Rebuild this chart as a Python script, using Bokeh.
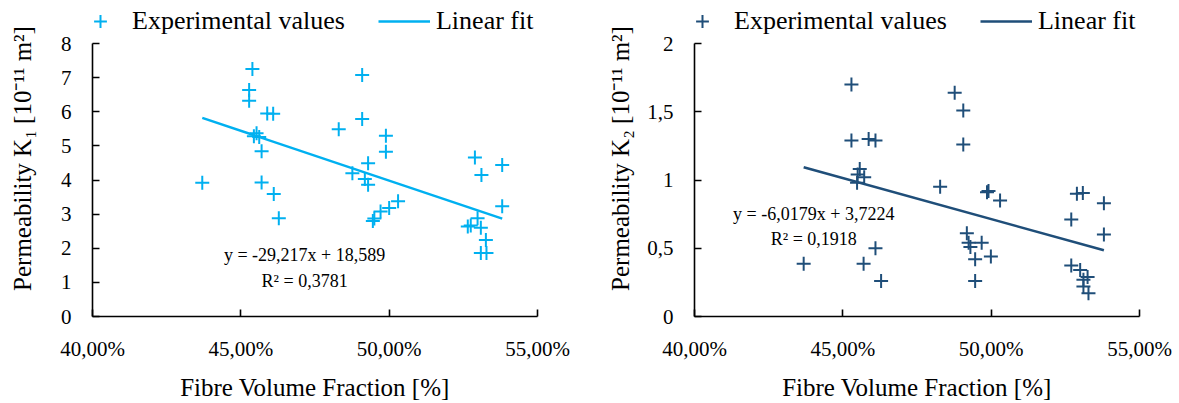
from bokeh.plotting import figure
from bokeh.layouts import row
from bokeh.models import (Range1d, FixedTicker, CustomJSTickFormatter, Legend,
                          LegendItem, Label)
from bokeh.embed import file_html
from bokeh.resources import INLINE

FONT = "Liberation Serif"

# ---------------- data ----------------
fvf_k1 = [0.4370, 0.4539, 0.4528, 0.4528, 0.4589, 0.4609, 0.4553, 0.4544, 0.4562,
          0.4570, 0.4570, 0.4611, 0.4628,
          0.4830, 0.4909, 0.4909, 0.4876, 0.4929, 0.4918, 0.4929, 0.4950, 0.4945,
          0.4971, 0.5000, 0.5030, 0.4989, 0.4989,
          0.5289, 0.5311, 0.5381, 0.5381, 0.5265, 0.5275, 0.5298, 0.5309, 0.5326,
          0.5309, 0.5328]
k1 = [3.92, 7.25, 6.64, 6.32, 5.95, 5.94, 5.37, 5.28, 5.26,
      4.84, 3.93, 3.59, 2.88,
      5.49, 7.08, 5.79, 4.20, 4.49, 4.03, 3.86, 2.87, 2.80,
      3.08, 3.18, 3.38, 5.30, 4.83,
      4.66, 4.15, 4.44, 3.23, 2.64, 2.67, 2.88, 2.60, 2.24,
      1.86, 1.86]

fvf_k2 = [0.4368, 0.4529, 0.4529, 0.4587, 0.4610, 0.4557, 0.4550, 0.4572, 0.4548,
          0.4570, 0.4610, 0.4629,
          0.4828, 0.4877, 0.4906, 0.4906, 0.4918, 0.4924, 0.4930, 0.4946, 0.4946,
          0.4968, 0.4999, 0.4991, 0.4986, 0.5030,
          0.5270, 0.5289, 0.5309, 0.5380, 0.5380, 0.5270, 0.5300, 0.5325, 0.5311,
          0.5311, 0.5328]
k2 = [0.386, 1.70, 1.29, 1.30, 1.29, 1.08, 1.04, 1.02, 0.98,
      0.386, 0.50, 0.26,
      0.95, 1.64, 1.51, 1.26, 0.61, 0.54, 0.51, 0.42, 0.26,
      0.54, 0.44, 0.92, 0.91, 0.85,
      0.71, 0.90, 0.905, 0.83, 0.60, 0.373, 0.34, 0.29, 0.27,
      0.22, 0.17]

x_ticks = [0.40, 0.45, 0.50, 0.55]
k1_ticks = [0, 1, 2, 3, 4, 5, 6, 7, 8]
k2_ticks = [0, 0.5, 1, 1.5, 2]

k1_slope, k1_intercept = -29.217, 18.589
k2_slope, k2_intercept = -6.0179, 3.7224
k1_eq = "y = -29,217x + 18,589"
k1_r2 = "R² = 0,3781"
k2_eq = "y = -6,0179x + 3,7224"
k2_r2 = "R² = 0,1918"

series_labels = ["Experimental values", "Linear fit"]
x_title = "Fibre Volume Fraction [%]"
k1_title = "Permeability K₁ [10⁻¹¹ m²]"
k2_title = "Permeability K₂ [10⁻¹¹ m²]"

LIGHT = "#00B0F0"
DARK = "#1F4E79"

# ---------------- layout constants (pixels) ----------------
H = 403
BOTTOM = 87
TOP_GAP = 43          # from figure top to the highest y tick
AXIS_W = 445          # pixel length of the 40%..55% axis

x_fmt = CustomJSTickFormatter(code="return (tick*100).toFixed(2).replace('.', ',') + '%';")
y_fmt = CustomJSTickFormatter(code="return String(Math.round(tick*100)/100).replace('.', ',');")


def make_panel(x, y, color, slope, intercept, eq, r2, y_ticks, y_title,
               width, axis_px, ylabel_standoff, eq_pos):
    x0, x1 = x_ticks[0], x_ticks[-1]
    frame_h = H - BOTTOM
    y_top = y_ticks[-1]
    y_end = y_top * frame_h / (frame_h - TOP_GAP)
    p = figure(width=width, height=H, x_range=Range1d(x0, x1),
               y_range=Range1d(y_ticks[0], y_end),
               output_backend="svg", toolbar_location=None,
               min_border_left=axis_px,
               min_border_right=width - axis_px - AXIS_W,
               min_border_top=0, min_border_bottom=BOTTOM)
    p.outline_line_color = None
    p.grid.visible = False
    p.background_fill_color = "white"
    p.border_fill_color = "white"

    pts = p.scatter(x, y, marker="cross", size=14, line_color=color, line_width=2)
    xs = [min(x), max(x)]
    fit = p.line(xs, [slope * v + intercept for v in xs], line_color=color, line_width=2.5)

    for ax in (p.xaxis[0], p.yaxis[0]):
        ax.axis_line_color = "black"
        ax.axis_line_width = 1.6
        ax.major_tick_line_color = "black"
        ax.major_tick_line_width = 1.6
        ax.major_tick_in = 7
        ax.major_tick_out = 0
        ax.minor_tick_in = 0
        ax.minor_tick_out = 0
        ax.major_label_text_font = FONT
        ax.major_label_text_font_size = "21px"
        ax.major_label_text_color = "black"
        ax.axis_label_text_font = FONT
        ax.axis_label_text_font_size = "25px"
        ax.axis_label_text_font_style = "normal"
        ax.axis_label_text_color = "black"

    p.xaxis.ticker = FixedTicker(ticks=x_ticks)
    p.xaxis.formatter = x_fmt
    p.xaxis.major_label_standoff = 20
    p.xaxis.axis_label = x_title
    p.xaxis.axis_label_standoff = 10

    p.yaxis.ticker = FixedTicker(ticks=y_ticks)
    p.yaxis.formatter = y_fmt
    p.yaxis.bounds = (y_ticks[0], y_top)
    p.yaxis.major_label_standoff = 21
    p.yaxis.axis_label = y_title
    p.yaxis.axis_label_standoff = ylabel_standoff

    legend = Legend(items=[LegendItem(label=series_labels[0], renderers=[pts]),
                           LegendItem(label=series_labels[1], renderers=[fit])],
                    orientation="horizontal", location=(-18, frame_h - 37),
                    glyph_width=52, glyph_height=32, label_standoff=6, spacing=33,
                    padding=0, margin=0, border_line_color=None,
                    background_fill_alpha=0, label_text_font=FONT,
                    label_text_font_size="26px", label_text_color="black")
    p.add_layout(legend)

    ex, ey, ry = eq_pos
    for txt, ty in ((eq, ey), (r2, ry)):
        p.add_layout(Label(x=ex, y=ty, text=txt, text_align="center",
                           text_baseline="middle", text_font=FONT,
                           text_font_size="18px", text_color="black"))
    return p


p1 = make_panel(fvf_k1, k1, LIGHT, k1_slope, k1_intercept, k1_eq, k1_r2, k1_ticks,
                k1_title, 590, 92, 22, (0.4715, 1.79, 1.05))
p2 = make_panel(fvf_k2, k2, DARK, k2_slope, k2_intercept, k2_eq, k2_r2, k2_ticks,
                k2_title, 589, 104, 10, (0.4402, 0.752, 0.569))

layout = row(p1, p2)
open("out.html", "w").write(file_html(layout, INLINE))
